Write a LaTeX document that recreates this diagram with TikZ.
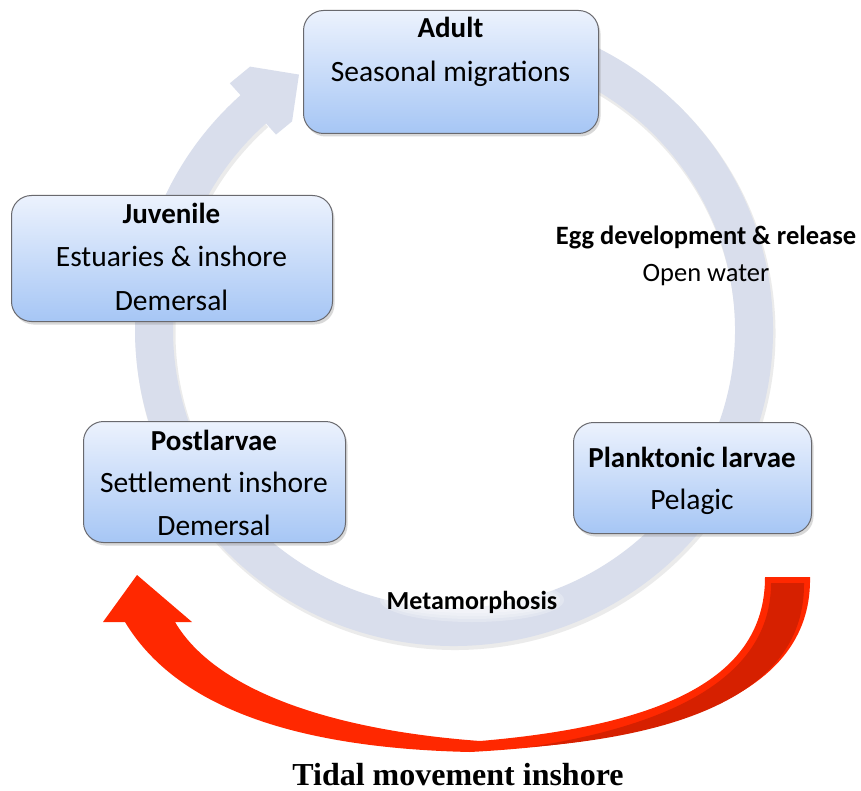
\documentclass[tikz,border=0pt]{standalone}
\usepackage{fontspec}
\setmainfont{Carlito}
\newfontfamily\capfont{Liberation Serif}
\usetikzlibrary{shadows}

\definecolor{boxtop}{RGB}{236,242,253}
\definecolor{boxbot}{RGB}{166,198,245}
\definecolor{boxline}{RGB}{105,105,110}
\definecolor{ringc}{RGB}{217,222,236}
\definecolor{redlight}{RGB}{255,40,0}
\definecolor{reddark}{RGB}{214,32,0}

\begin{document}
\begin{tikzpicture}[x=1pt,y=-1pt,
  stagebox/.style={draw=boxline, line width=1pt, rounded corners=20pt,
    top color=boxtop, bottom color=boxbot,
    drop shadow={opacity=0.3, shadow xshift=2pt, shadow yshift=-3pt},
    anchor=north west, inner sep=0pt},
  head/.style={font=\fontsize{29}{33}\selectfont\bfseries, anchor=base, inner sep=0pt},
  body/.style={font=\fontsize{29.5}{34}\selectfont, anchor=base, inner sep=0pt},
  note/.style={font=\fontsize{26.5}{30}\selectfont\bfseries, anchor=base, inner sep=0pt},
  notebody/.style={font=\fontsize{26.5}{30}\selectfont, anchor=base, inner sep=0pt},
  ring/.style={line width=38pt, ringc},
]
\useasboundingbox (0,0) rectangle (861,791);
\fill[white] (0,0) rectangle (861,791);

% circular cycle arrow behind the stage boxes
\begin{scope}[shift={(454,330)}, y=1pt]
  \begin{scope}[shift={(1.5,-3)}]
    \draw[line width=40pt, black, opacity=0.08] (96:300 and 297) arc[start angle=96, end angle=-228, x radius=300, y radius=297];
  \end{scope}
  \draw[ring] (96:300 and 297) arc[start angle=96, end angle=-229, x radius=300, y radius=297];
  \fill[ringc] (127.5:266 and 263) -- (121:301 and 298) -- (127.5:335 and 332) -- (132:335 and 332) -- (132:266 and 263) -- cycle;
\end{scope}

% soft white glow under the metamorphosis label
\foreach \w/\h in {92/22, 88/19, 84/16, 80/13} {
  \fill[white, opacity=0.25] (472,600) ellipse[x radius=\w, y radius=\h];
}

% tidal movement arrow
\fill[redlight] (810,577) .. controls (812,688) and (690,740) .. (470,752)
  .. controls (290,748) and (175,705) .. (125,622)
  -- (103,622) -- (137,575) -- (192,622) -- (175,622)
  .. controls (215,690) and (330,730) .. (480,741)
  .. controls (680,724) and (765,670) .. (765,577) -- cycle;
\fill[reddark] (771,583) -- (804,583) .. controls (805,684) and (700,734) .. (530,747)
  .. controls (690,722) and (771,668) .. (771,583) -- cycle;

% stage boxes
\node[stagebox, minimum width=295pt, minimum height=123pt] (adult) at (303,10) {};
\node[stagebox, minimum width=321pt, minimum height=126pt] (juvenile) at (11,195) {};
\node[stagebox, minimum width=262pt, minimum height=121pt] (postlarvae) at (83,421) {};
\node[stagebox, minimum width=238pt, minimum height=111pt] (larvae) at (573,422) {};

% box texts
\node[head] (adultH) at (450.5,38) {Adult};
\node[body] (adultB) at (450.5,82) {Seasonal migrations};

\node[head] (juvH) at (171.5,224) {Juvenile};
\node[body] (juvB1) at (171.5,267) {Estuaries \& inshore};
\node[body] (juvB2) at (171.5,310) {Demersal};

\node[head] (postH) at (214,450) {Postlarvae};
\node[body] (postB1) at (214,492) {Settlement inshore};
\node[body] (postB2) at (214,535) {Demersal};

\node[head] (larvH) at (692,467) {Planktonic larvae};
\node[body] (larvB) at (692,509) {Pelagic};

% transition labels
\node[note] (egg) at (706,245) {Egg development \& release};
\node[notebody] (open) at (706,282) {Open water};
\node[note, font=\fontsize{26}{30}\selectfont\bfseries] (meta) at (472,609) {Metamorphosis};

\node[font=\capfont\bfseries\fontsize{32}{36}\selectfont, anchor=base, inner sep=0pt, text depth=0pt] (tidal) at (458,785) {Tidal movement inshore};
\end{tikzpicture}
\end{document}
